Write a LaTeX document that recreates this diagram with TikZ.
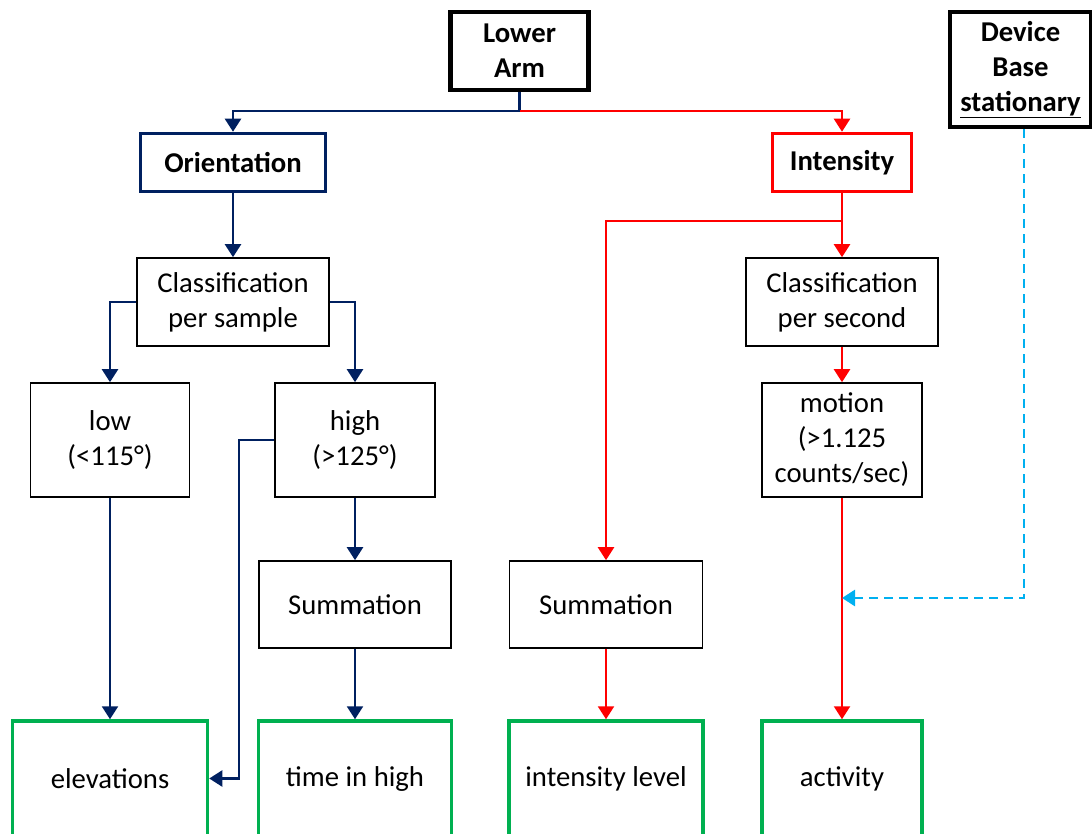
\documentclass[tikz,border=0pt]{standalone}
\usepackage{fontspec}
\setmainfont{Carlito}
\usetikzlibrary{arrows.meta}
\definecolor{navy}{HTML}{002060}
\definecolor{flowred}{HTML}{FF0000}
\definecolor{outgreen}{HTML}{00B050}
\definecolor{basecyan}{HTML}{00B0F0}
\begin{document}
\begin{tikzpicture}[x=1pt,y=-1pt,
  font=\fontsize{28.7}{35}\selectfont,
  sz/.style 2 args={minimum width=#1pt, minimum height=#2pt},
  box/.style={draw=black, line width=1.6pt, fill=white, rectangle, inner sep=0pt, align=center},
  headbox/.style={box, line width=4.5pt, font=\fontsize{28.7}{35}\selectfont\bfseries},
  navybox/.style={box, draw=navy, line width=3.5pt, font=\fontsize{28.7}{35}\selectfont\bfseries},
  redbox/.style={box, draw=flowred, line width=3.5pt, font=\fontsize{28.7}{35}\selectfont\bfseries},
  outbox/.style={box, draw=outgreen, line width=3.5pt},
  link/.style={line width=2.3pt, -{Triangle[width=16pt,length=13pt]}},
  dashlink/.style={line width=2.8pt, basecyan, dash pattern=on 9pt off 6pt, -{Triangle[width=16pt,length=13pt]}}]
\useasboundingbox (0,0) rectangle (1092,834);
\clip (0,0) rectangle (1092,834);

% sources
\node[headbox, sz={138}{78}] (lower) at (519.5,51) {Lower\\Arm};
\node[headbox, sz={141}{115}] (device) at (1020.5,69.5) {Device\\Base\\\underline{stationary}};

% orientation branch
\node[navybox, sz={185}{58}] (orient) at (233,162.5) {Orientation};
\node[box, sz={192}{88}] (cps) at (233,302) {Classification\\per sample};
\node[box, sz={159}{114}] (low) at (110,440) {low\\(<115°)};
\node[box, sz={160}{114}] (high) at (355,440) {high\\(>125°)};
\node[box, sz={192}{87}] (sum1) at (355,604.5) {Summation};

% intensity branch
\node[redbox, sz={139}{58}] (intens) at (842,162.5) {Intensity};
\node[box, sz={192}{88}] (cpsec) at (842,302) {Classification\\per second};
\node[box, sz={160}{114}] (motion) at (842,440) {motion\\(>1.125\\counts/sec)};
\node[box, sz={193}{87}] (sum2) at (606,604.5) {Summation};

% outputs
\node[outbox, sz={195}{115}] (elev) at (110,778.5) {elevations};
\node[outbox, sz={193}{115}] (timehigh) at (355,778.5) {time in high};
\node[outbox, sz={194}{115}] (intlev) at (606,778.5) {intensity level};
\node[outbox, sz={160}{115}] (activity) at (842,778.5) {activity};

% connectors
\coordinate (split) at (519.5,111);
\draw[link, navy] (lower.south) -- (split) -| (orient.north);
\draw[link, flowred] (split) -| (intens.north);

\draw[link, navy] (orient.south) -- (cps.north);
\draw[link, navy] (cps.west) -| (low.north);
\draw[link, navy] (cps.east) -| (high.north);
\draw[link, navy] (high.west) -- ++(-35,0) |- (elev.east);
\draw[link, navy] (low.south) -- (elev.north);
\draw[link, navy] (high.south) -- (sum1.north);
\draw[link, navy] (sum1.south) -- (timehigh.north);

\coordinate (fork) at (842,221);
\draw[line width=2.3pt, flowred] (intens.south) -- (fork);
\draw[link, flowred] (fork) -- (cpsec.north);
\draw[link, flowred] (fork) -| (sum2.north);
\draw[link, flowred] (cpsec.south) -- (motion.north);
\draw[link, flowred] (motion.south) -- (activity.north);
\draw[link, flowred] (sum2.south) -- (intlev.north);

\coordinate (tap) at (842,598);
\draw[dashlink] ([xshift=3.5pt]device.south) |- (tap);
\end{tikzpicture}
\end{document}
